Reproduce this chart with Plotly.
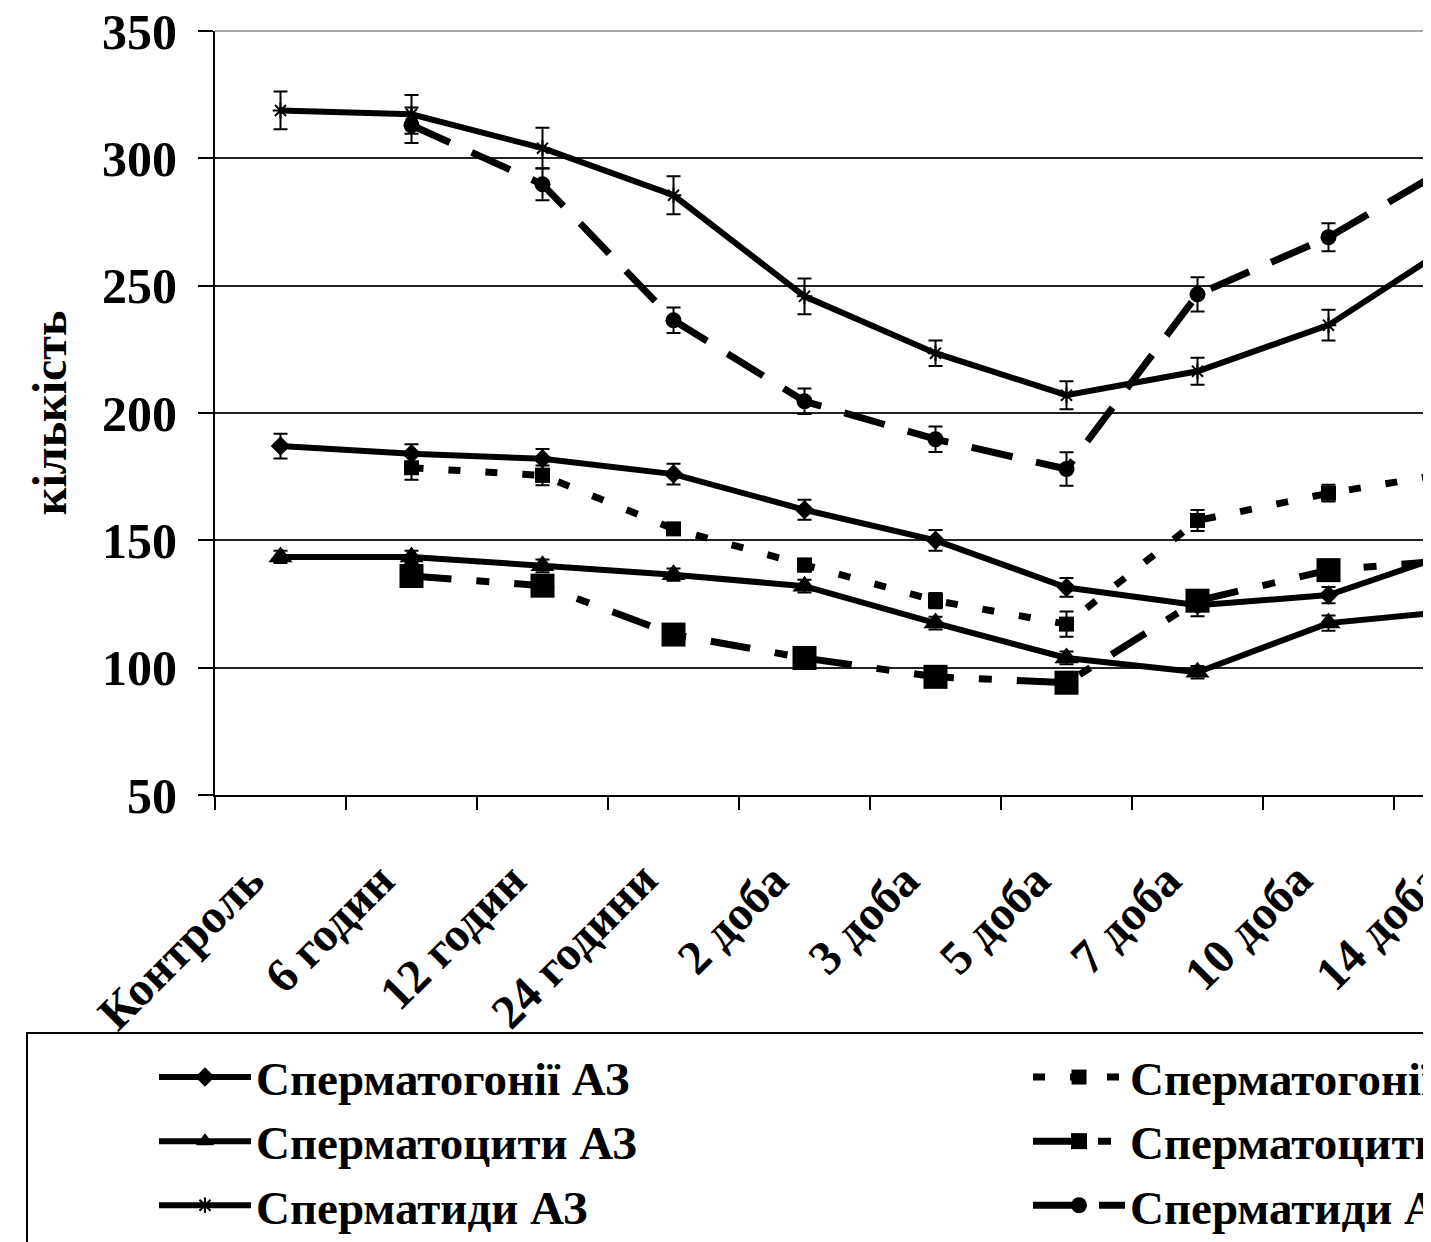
import plotly.graph_objects as go

# ---------------- data ----------------
categories = ["Контроль", "6 годин", "12 годин", "24 години", "2 доба",
              "3 доба", "5 доба", "7 доба", "10 доба", "14 доба"]
y_tick_vals = [50, 100, 150, 200, 250, 300, 350]
y_title = "кількість"

names_az = ["Сперматогонії АЗ", "Сперматоцити АЗ", "Сперматиди АЗ"]
names_x = ["Сперматогонії АЗ+К", "Сперматоцити АЗ+К", "Сперматиди АЗ+К"]

gonia_az = [187, 184, 182, 176, 162, 150, 131.5, 124.5, 128.5, 146]
gonia_az_err = [4.9, 3.7, 3.9, 4.1, 3.9, 4.1, 3.7, 4.3, 3.2, 4]
cytes_az = [143.5, 143.5, 140, 136.5, 132, 117.5, 103.8, 98.2, 117.5, 122.5]
cytes_az_err = [2.4, 2.4, 2.5, 2.4, 2.5, 2.5, 2.5, 2.5, 3, 3]
tids_az = [318.8, 317.3, 304, 285.5, 245.8, 223.5, 207, 216.4, 234.5, 268]
tids_az_err = [7.4, 7.6, 8, 7.5, 7, 5, 5.5, 5.3, 6, 6]

gonia_x = [None, 178.5, 175.5, 154.5, 140.3, 126.3, 117.1, 157.8, 168.5, 177]
gonia_x_err = [None, 4.7, 3.9, 2, 2.5, 3, 5, 4.1, 3.3, 3]
cytes_x = [None, 136, 132.2, 113, 103.8, 96.4, 94.1, 126.3, 138.3, 142.4]
cytes_x_err = [None, 2, 2, 2, 2, 2, 2, 3.5, 2, 2]
tids_x = [None, 313, 289.8, 236.4, 204.6, 189.7, 178, 246.6, 269, 299]
tids_x_err = [None, 7, 6.3, 5, 5, 5, 6.6, 6.7, 5.5, 6]

# ---------------- geometry / style ----------------
OFF = 8                      # page body margin
SW, SH = 1431, 1242          # screen size
W, H = SW - OFF, SH - OFF    # figure size
AX_LEFT, AX_TOP, AX_BOTTOM = 215, 31, 795   # screen px of plot area
ML, MT = AX_LEFT - OFF, AX_TOP - OFF
MB = H - (AX_BOTTOM - OFF)
PW, PH = W - ML, H - MT - MB
CAT_PX = 131.0
X0 = -0.5
X1 = X0 + PW / CAT_PX
FONT = "Liberation Serif, Times New Roman, serif"


def px_to_paper_x(sx):
    return (sx - OFF - ML) / PW


def px_to_paper_y(sy):
    return (H - MB - (sy - OFF)) / PH


xs = list(range(len(categories)))


def err(arr):
    return dict(type="data", array=[0 if v is None else v for v in arr],
                color="black", thickness=2, width=7, visible=True)


series = [
    (names_az[0], gonia_az, gonia_az_err, "solid", 6, "diamond", 15, 0, "legend"),
    (names_az[1], cytes_az, cytes_az_err, "solid", 6, "triangle-up", 21, 0, "legend"),
    (names_az[2], tids_az, tids_az_err, "solid", 6, "asterisk-open", 13, 2, "legend"),
    (names_x[0], gonia_x, gonia_x_err, "12px,25px", 7, "square", 15, 0, "legend2"),
    (names_x[1], cytes_x, cytes_x_err, "40px,25px,13px,25px", 7, "square", 24, 0, "legend2"),
    (names_x[2], tids_x, tids_x_err, "42px,24px", 7, "circle", 16, 0, "legend2"),
]

fig = go.Figure()
for name, vals, errs, dash, lw, sym, ms, mlw, lg in series:
    fig.add_trace(go.Scatter(
        x=xs, y=vals, name=name, mode="lines+markers",
        line=dict(color="black", width=lw, dash=dash),
        marker=dict(symbol=sym, size=ms, color="black",
                    line=dict(color="black", width=mlw)),
        error_y=err(errs), legend=lg, cliponaxis=True,
    ))

# category labels (rotated), positioned from the category index
annotations = []
for i, lab in enumerate(categories):
    annotations.append(dict(
        x=(i - X0) / (X1 - X0), y=0, xref="paper", yref="paper",
        text=lab, textangle=-45, xanchor="right", yanchor="top",
        showarrow=False, yshift=-55, xshift=-4,
        font=dict(family=FONT, size=48, color="black", weight="bold"),
    ))

shapes = [
    dict(type="line", xref="paper", x0=0, x1=1, yref="paper", y0=1, y1=1,
         line=dict(color="#a8a8a8", width=2), layer="above"),
    dict(type="rect", xref="paper", yref="paper",
         x0=px_to_paper_x(27), x1=1.3,
         y0=px_to_paper_y(1033), y1=px_to_paper_y(1600),
         line=dict(color="black", width=2), fillcolor="rgba(0,0,0,0)"),
]

legend_font = dict(family=FONT, size=47, color="black", weight="bold")
ITEMW = 92
fig.update_layout(
    width=W, height=H,
    margin=dict(l=ML, r=0, t=MT, b=MB, autoexpand=False),
    paper_bgcolor="white", plot_bgcolor="white",
    font=dict(family=FONT, color="black"),
    xaxis=dict(range=[X0, X1], tickmode="array",
               tickvals=[k - 0.5 for k in range(len(categories) + 1)],
               showticklabels=False, ticks="outside", ticklen=13, tickwidth=2,
               tickcolor="black", showline=True, linecolor="black", linewidth=2,
               showgrid=False, zeroline=False, automargin=False, fixedrange=True),
    yaxis=dict(range=[50, 350], tickmode="array", tickvals=y_tick_vals,
               ticks="outside", ticklen=15, tickwidth=2, tickcolor="black",
               showline=True, linecolor="black", linewidth=2,
               showgrid=True, gridcolor="#222222", gridwidth=2, zeroline=False,
               tickfont=dict(family=FONT, size=50, color="black", weight="bold"),
               ticklabelstandoff=11, ticklabeloverflow="allow", automargin=False,
               title=dict(text=y_title, standoff=20,
                          font=dict(family=FONT, size=48, color="black", weight="bold"))),
    legend=dict(x=px_to_paper_x(258 - ITEMW - 12), y=px_to_paper_y(1040),
                xanchor="left", yanchor="top", orientation="v",
                font=legend_font, itemwidth=ITEMW, bgcolor="rgba(0,0,0,0)",
                borderwidth=0, tracegroupgap=0),
    legend2=dict(x=px_to_paper_x(1132 - ITEMW - 12), y=px_to_paper_y(1040),
                 xanchor="left", yanchor="top", orientation="v",
                 font=legend_font, itemwidth=ITEMW, bgcolor="rgba(0,0,0,0)",
                 borderwidth=0, tracegroupgap=0),
    annotations=annotations,
    shapes=shapes,
    showlegend=True,
)

fig.write_html("out.html")
